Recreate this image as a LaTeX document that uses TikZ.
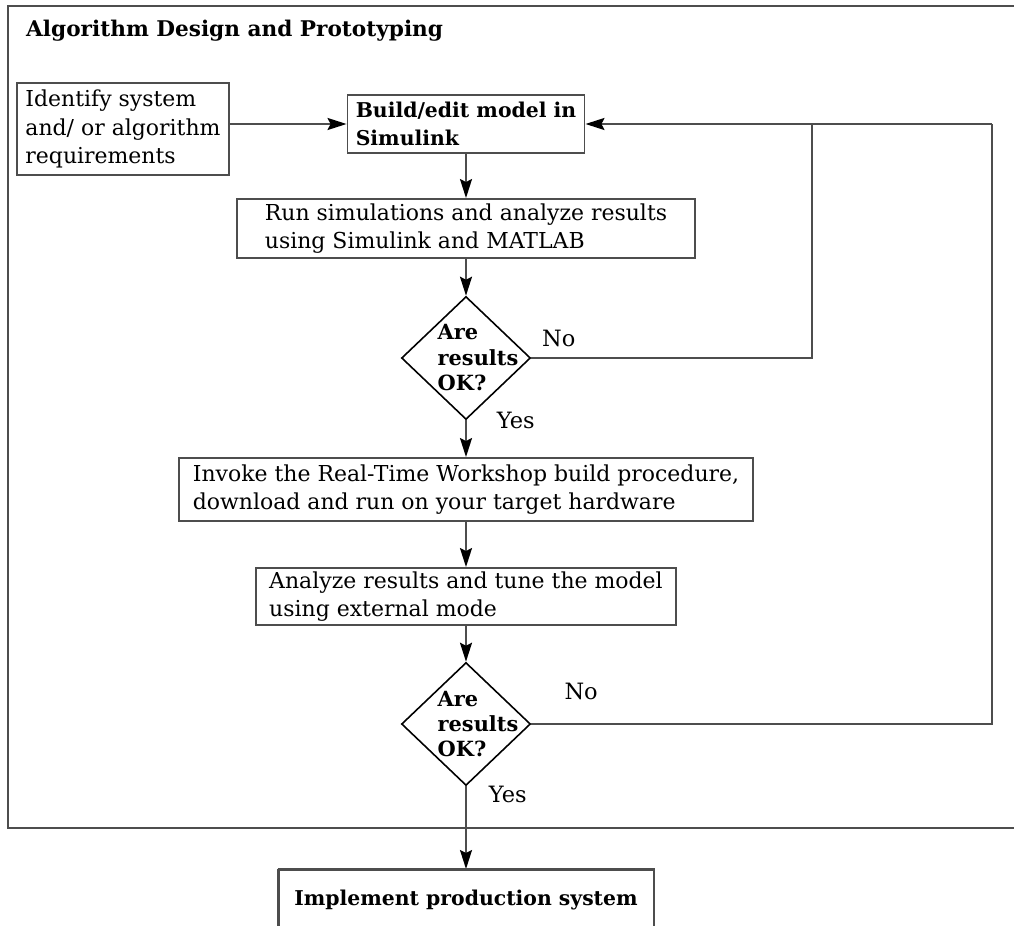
\documentclass[tikz,border=0pt]{standalone}
\usepackage{fontspec}
\setmainfont{DejaVu Serif}
\usetikzlibrary{positioning,shapes.geometric,arrows.meta}
\definecolor{linegray}{HTML}{4D4D4D}
\tikzstyle{process} = [rectangle, draw=linegray, line width=1.1pt, align=left, inner sep=0pt, font=\fontsize{12.5}{16}\selectfont]
\tikzstyle{boldprocess} = [process, font=\fontsize{11.6}{16}\selectfont\bfseries]
\tikzstyle{decision} = [diamond, draw=black, line width=0.9pt, inner sep=0pt, minimum width=2.58cm, minimum height=2.46cm]
\tikzstyle{dectext} = [align=left, xshift=0.24cm, font=\fontsize{11.9}{14.5}\selectfont\bfseries]
\tikzstyle{answer} = [font=\fontsize{12.8}{15}\selectfont, inner sep=0pt]
\tikzstyle{arrow} = [line width=1.1pt, draw=linegray, -{Stealth[length=0.38cm, width=0.24cm, inset=0.06cm, color=black]}]
\tikzstyle{line} = [line width=1.1pt, draw=linegray]

\begin{document}
\begin{tikzpicture}[x=0.02cm, y=-0.02cm]
        \useasboundingbox (0,0) rectangle (1014,926);
        % frame of the design stage, open to the right
        \draw [line] (1014,6) -- (8,6) -- (8,828) -- (1014,828);
        \node (title) [anchor=west, font=\fontsize{12.3}{14}\selectfont\bfseries] at (20,31) {Algorithm Design and Prototyping};

        \node (identify) [process, minimum width=4.24cm, minimum height=1.84cm] at (123,129) {Identify system\\and/ or algorithm\\requirements};
        \node (build) [boldprocess, minimum width=4.74cm, minimum height=1.16cm] at (466,124) {Build/edit model in\\Simulink};
        \node (simulate) [process, minimum width=9.18cm, minimum height=1.18cm] at (466,228.5) {Run simulations and analyze results\\using Simulink and MATLAB};
        \node (check-sim) [decision, label={[dectext]center:Are\\results\\OK?}] at (466,358) {};
        \node (invoke-rtw) [process, minimum width=11.48cm, minimum height=1.26cm] at (466,489.5) {Invoke the Real-Time Workshop build procedure,\\download and run on your target hardware};
        \node (tune-model) [process, minimum width=8.4cm, minimum height=1.14cm] at (466,596.5) {Analyze results and tune the model\\using external mode};
        \node (check-target) [decision, label={[dectext]center:Are\\results\\OK?}] at (466,724) {};
        \node (production) [boldprocess, anchor=north, minimum width=7.5cm, minimum height=1.14cm] at (466,869) {};
        \node [font=\fontsize{11.6}{16}\selectfont\bfseries, anchor=north] at (466,884) {Implement production system};

        \coordinate (loop-inner) at (812,124);
        \coordinate (loop-outer) at (992,124);

        \draw [arrow] (identify.east |- build) -- (build);
        \draw [arrow] (build) -- (simulate);
        \draw [arrow] (simulate) -- (check-sim);
        \draw [arrow] (check-sim) -- node[answer, anchor=west, pos=0, xshift=0.6cm] {Yes}(invoke-rtw);
        \draw [arrow] (invoke-rtw) -- (tune-model);
        \draw [arrow] (tune-model) -- (check-target);
        \draw [arrow] (check-target) -- node[answer, anchor=west, pos=0, xshift=0.44cm, yshift=-0.16cm] {Yes}(production);
        \draw [line] (check-sim.east) -| node[answer, anchor=south west, pos=0, xshift=0.2cm, yshift=0.2cm] {No}(loop-inner);
        \draw [line] (check-target.east) -| node[answer, anchor=south west, pos=0.035, yshift=0.46cm] {No}(loop-outer);
        \draw [arrow] (loop-outer) -- (build);
        \draw [line] (production.north west) -- (production.south west);
        \draw [line] (production.north west) -- (production.north east) -- (production.south east);
    \end{tikzpicture}
\end{document}
